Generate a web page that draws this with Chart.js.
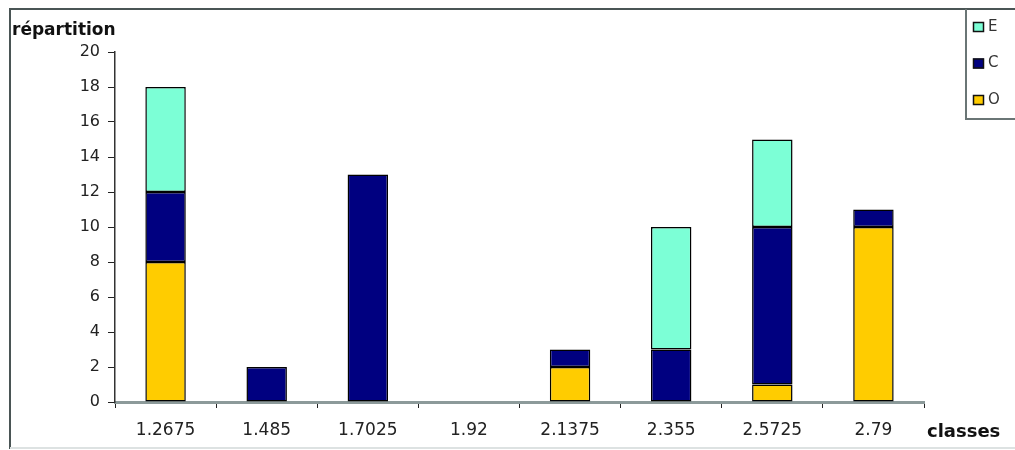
<!DOCTYPE html>
<html>
<head>
<meta charset="utf-8">
<script src="https://cdn.jsdelivr.net/npm/chart.js@4/dist/chart.umd.min.js"></script>
<style>
  html, body { margin: 0; padding: 0; background: #fff; }
  #wrap { width: 1015px; height: 450px; }
</style>
</head>
<body>
<div id="wrap"><canvas id="chart" width="1015" height="450"></canvas></div>
<script>
// classes on the x axis
const classes = ['1.2675', '1.485', '1.7025', '1.92', '2.1375', '2.355', '2.5725', '2.79'];

// counts per class (null = nothing drawn)
const valuesO = [8, null, null, null, 2, null, 1, 10];
const valuesC = [4, 2, 13, null, 1, 3, 9, 1];
const valuesE = [6, null, null, null, null, 7, 5, null];

const yTicks = [0, 2, 4, 6, 8, 10, 12, 14, 16, 18, 20];

const colO = '#FFCC00';
const colC = '#000080';
const colE = '#7CFFD6';

// frame, axis titles and the boxed legend, drawn on top of the chart
const decorPlugin = {
    id: 'decor',
    afterDraw(chart) {
        const ctx = chart.ctx;
        ctx.save();
        // outer frame
        ctx.strokeStyle = '#4a5555';
        ctx.lineWidth = 2;
        ctx.beginPath();
        ctx.moveTo(10, 449);
        ctx.lineTo(10, 9);
        ctx.lineTo(1015, 9);
        ctx.stroke();
        ctx.strokeStyle = '#dde2e2';
        ctx.beginPath();
        ctx.moveTo(10, 448);
        ctx.lineTo(1015, 448);
        ctx.stroke();

        // axis titles
        ctx.fillStyle = '#111';
        ctx.font = 'bold 17px "DejaVu Sans"';
        ctx.textBaseline = 'alphabetic';
        ctx.textAlign = 'left';
        ctx.fillText('répartition', 12, 35);
        ctx.font = 'bold 18px "DejaVu Sans"';
        ctx.fillText('classes', 927, 437);

        // legend box
        ctx.strokeStyle = '#6a7575';
        ctx.lineWidth = 2;
        ctx.beginPath();
        ctx.moveTo(966, 9);
        ctx.lineTo(966, 119);
        ctx.lineTo(1015, 119);
        ctx.stroke();

        const sets = chart.data.datasets.slice().reverse();
        ctx.font = '15px "DejaVu Sans"';
        ctx.textBaseline = 'middle';
        sets.forEach((ds, i) => {
            const y = 27 + i * 36.5;
            ctx.fillStyle = ds.backgroundColor;
            ctx.fillRect(973, y - 5, 11, 10);
            ctx.strokeStyle = '#111';
            ctx.lineWidth = 1.5;
            ctx.strokeRect(973.5, y - 4.5, 10, 9);
            ctx.fillStyle = '#333';
            ctx.fillText(ds.label, 988, y);
        });
        ctx.restore();
    }
};

const barStyle = {
    borderColor: '#000',
    borderWidth: 1.5,
    borderSkipped: false,
    barPercentage: 0.4,
    categoryPercentage: 1.0
};

new Chart(document.getElementById('chart').getContext('2d'), {
    type: 'bar',
    data: {
        labels: classes,
        datasets: [
            { label: 'O', data: valuesO, backgroundColor: colO, ...barStyle },
            { label: 'C', data: valuesC, backgroundColor: colC, ...barStyle },
            { label: 'E', data: valuesE, backgroundColor: colE, ...barStyle }
        ]
    },
    options: {
        responsive: false,
        animation: false,
        layout: { padding: { left: 0, right: 91, top: 52, bottom: 0 } },
        plugins: {
            legend: { display: false },
            tooltip: { enabled: false }
        },
        scales: {
            x: {
                stacked: true,
                grid: {
                    drawOnChartArea: false,
                    drawTicks: true,
                    tickLength: 6,
                    color: '#222',
                    offset: true
                },
                border: { color: '#8c9a9a', width: 3 },
                ticks: {
                    color: '#222',
                    font: { family: 'DejaVu Sans', size: 17 },
                    padding: 12,
                    maxRotation: 0
                },
                afterFit(scale) { scale.height = 48; }
            },
            y: {
                stacked: true,
                min: 0,
                max: 20,
                afterBuildTicks(scale) { scale.ticks = yTicks.map(v => ({ value: v })); },
                grid: {
                    drawOnChartArea: false,
                    drawTicks: true,
                    tickLength: 7,
                    color: '#222'
                },
                border: { color: '#333', width: 1.5 },
                ticks: {
                    color: '#222',
                    font: { family: 'DejaVu Sans', size: 16 },
                    padding: 8
                },
                afterFit(scale) { scale.width = 115; }
            }
        }
    },
    plugins: [decorPlugin]
});
</script>
</body>
</html>
